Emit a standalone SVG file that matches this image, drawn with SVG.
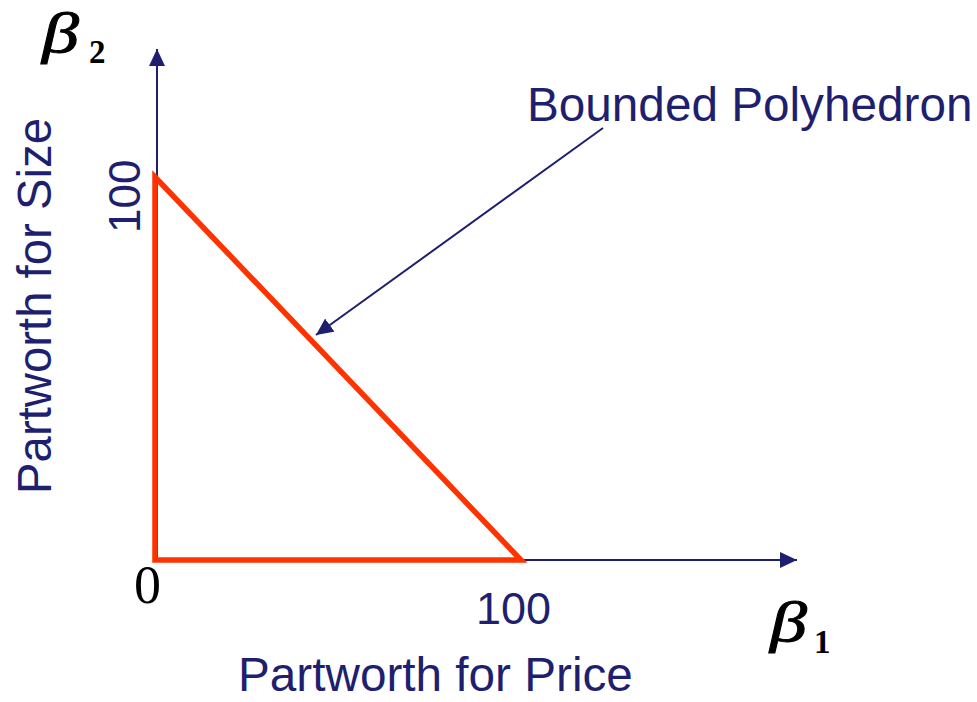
<svg xmlns="http://www.w3.org/2000/svg" width="977" height="702" viewBox="0 0 977 702">
<defs>
<style>
.lbl{font-family:"Liberation Sans",Arial,sans-serif;fill:#1F1F70;}
.greek{font-family:"Liberation Serif","Times New Roman",serif;font-style:italic;fill:#000;stroke:#000;stroke-width:0.9;}
.num{font-family:"Liberation Serif","Times New Roman",serif;fill:#000;}
.sub{font-family:"Liberation Serif","Times New Roman",serif;font-weight:bold;fill:#000;}
.axis{stroke:#1F1F70;stroke-width:2;fill:none;}
</style>
<marker id="ah" markerUnits="userSpaceOnUse" markerWidth="18" markerHeight="16" viewBox="0 0 18 16" refX="17" refY="8" orient="auto">
<path d="M0,0 L17,8 L0,16 Z" fill="#1F1F70"/>
</marker>
</defs>
<g id="connectors">
<line class="axis" x1="157" y1="560" x2="157" y2="49" marker-end="url(#ah)"/>
<line class="axis" x1="157" y1="560" x2="797" y2="560" marker-end="url(#ah)"/>
<line class="axis" x1="603" y1="128" x2="316" y2="335" marker-end="url(#ah)"/>
</g>
<g id="polyhedron">
<polygon points="155,177 521,560 155,560" fill="none" stroke="#FF3300" stroke-width="5.5" stroke-linejoin="miter"/>
</g>
<g id="beta2">
<text class="greek" font-size="57" transform="translate(42,52) scale(1.3,1)">β</text>
<text class="sub" x="89" y="63" font-size="33">2</text>
</g>
<g id="beta1">
<text class="greek" font-size="57" transform="translate(770,641) scale(1.3,1)">β</text>
<text class="sub" x="814" y="653" font-size="33">1</text>
</g>
<g id="label-bounded">
<text class="lbl" x="527" y="121" font-size="47.7">Bounded Polyhedron</text>
</g>
<g id="label-size">
<text class="lbl" font-size="47.3" text-anchor="middle" transform="translate(51,306) rotate(-90)">Partworth for Size</text>
</g>
<g id="label-price">
<text class="lbl" x="238" y="691" font-size="47.7">Partworth for Price</text>
</g>
<g id="tick-y100">
<text class="lbl" font-size="44" transform="translate(140,233) rotate(-90)">100</text>
</g>
<g id="tick-x100">
<text class="lbl" x="476" y="624" font-size="45">100</text>
</g>
<g id="tick-0">
<text class="num" x="134" y="603" font-size="54">0</text>
</g>
</svg>
